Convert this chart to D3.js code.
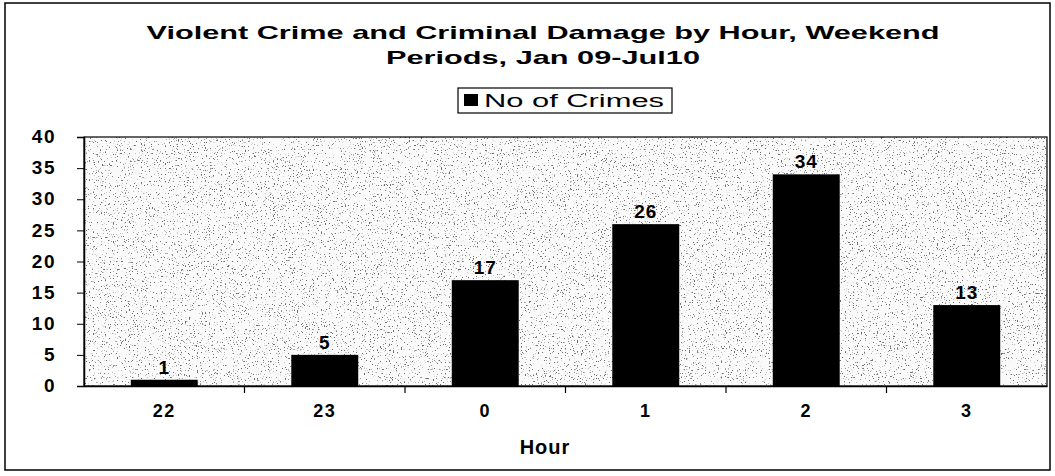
<!DOCTYPE html>
<html><head><meta charset="utf-8">
<script src="https://cdn.jsdelivr.net/npm/d3@7/dist/d3.min.js"></script>
<style>
html,body{margin:0;padding:0;background:#fff;}
svg{display:block;font-family:"Liberation Sans",Arial,sans-serif;}
</style></head>
<body><svg id="c" width="1055" height="476"></svg>
<script>
const categories = ["22","23","0","1","2","3"];
const crimes = [1,5,17,26,34,13];
const yTicks = [0,5,10,15,20,25,30,35,40];
const titleLines = ["Violent Crime and Criminal Damage by Hour, Weekend","Periods, Jan 09-Jul10"];
const seriesName = "No of Crimes";
const xTitle = "Hour";

const svg = d3.select("#c");
const m = {left:84, right:1047, top:137, bottom:386};

const defs = svg.append("defs");
const f = defs.append("filter").attr("id","speck").attr("x",0).attr("y",0).attr("width",1).attr("height",1);
f.append("feTurbulence").attr("type","fractalNoise").attr("baseFrequency","0.75").attr("numOctaves",2).attr("seed",7).attr("result","n");
f.append("feColorMatrix").attr("in","n").attr("type","matrix")
 .attr("values","0 0 0 0 0.15  0 0 0 0 0.15  0 0 0 0 0.15  11 0 0 0 -7.0");

// outer border
svg.append("rect").attr("x",5).attr("y",3).attr("width",1045).attr("height",467)
  .attr("fill","#fff").attr("stroke","#000").attr("stroke-width",1.5);

const x = d3.scaleBand().domain(categories).range([m.left,m.right]).paddingInner(0.583).paddingOuter(0.2915);
const y = d3.scaleLinear().domain([0,40]).range([m.bottom,m.top]);

// plot area
svg.append("rect").attr("x",m.left).attr("y",m.top).attr("width",m.right-m.left).attr("height",m.bottom-m.top).attr("fill","#fafafa");
svg.append("rect").attr("x",m.left).attr("y",m.top).attr("width",m.right-m.left).attr("height",m.bottom-m.top).attr("fill","#fff").attr("filter","url(#speck)");
svg.append("rect").attr("x",m.left).attr("y",m.top).attr("width",m.right-m.left).attr("height",m.bottom-m.top)
  .attr("fill","none").attr("stroke","#000").attr("stroke-width",1.2);

// bars
svg.append("g").selectAll("rect").data(crimes).join("rect")
  .attr("x",(d,i)=>x(categories[i])).attr("width",x.bandwidth())
  .attr("y",d=>y(d)).attr("height",d=>y(0)-y(d)).attr("fill","#000");

// bar labels
svg.append("g").selectAll("text").data(crimes).join("text")
  .attr("x",(d,i)=>x(categories[i])+x.bandwidth()/2).attr("y",d=>y(d)-6)
  .attr("text-anchor","middle").attr("font-size",19).attr("font-weight","bold").attr("letter-spacing",1).text(d=>d);

// y axis
const ya = svg.append("g").attr("transform",`translate(${m.left},0)`)
  .call(d3.axisLeft(y).tickValues(yTicks).tickSize(7).tickPadding(21));
ya.select(".domain").attr("stroke","#000").attr("stroke-width",1.5);
ya.selectAll("text").attr("font-size",19).attr("font-weight","bold").attr("font-family","'Liberation Sans',Arial,sans-serif").attr("fill","#000").attr("letter-spacing",1.5).attr("dy","0.3em");

// x axis
const xa = svg.append("g").attr("transform",`translate(0,${m.bottom})`)
  .call(d3.axisBottom(x).tickSize(0).tickPadding(18));
xa.select(".domain").attr("stroke","#000").attr("stroke-width",1.5);
xa.selectAll("text").attr("font-size",18).attr("font-weight","bold").attr("font-family","'Liberation Sans',Arial,sans-serif").attr("fill","#000").attr("letter-spacing",1.5);
svg.append("g").selectAll("line").data(categories.slice(1)).join("line")
  .attr("x1",d=>x(d)-x.step()*x.paddingInner()/2).attr("x2",d=>x(d)-x.step()*x.paddingInner()/2)
  .attr("y1",m.bottom).attr("y2",m.bottom+7).attr("stroke","#000").attr("stroke-width",1.2);

svg.append("text").attr("x",545).attr("y",454).attr("text-anchor","middle")
  .attr("font-size",20).attr("font-weight","bold").attr("letter-spacing",1).text(xTitle);

// title
svg.append("g").selectAll("text").data(titleLines).join("text")
  .attr("x",543).attr("y",(d,i)=>39+i*25).attr("text-anchor","middle")
  .attr("font-size",19).attr("font-weight","bold")
  .attr("textLength",(d,i)=>i===0?793:314).attr("lengthAdjust","spacingAndGlyphs").text(d=>d);

// legend
const lg = svg.append("g");
lg.append("rect").attr("x",458).attr("y",88).attr("width",214).attr("height",25).attr("fill","#fff").attr("stroke","#000").attr("stroke-width",1.2);
lg.append("rect").attr("x",464).attr("y",94).attr("width",14).attr("height",12).attr("fill","#000");
lg.append("text").attr("x",484).attr("y",107).attr("font-size",18).attr("textLength",180).attr("lengthAdjust","spacingAndGlyphs").text(seriesName);
</script></body></html>
